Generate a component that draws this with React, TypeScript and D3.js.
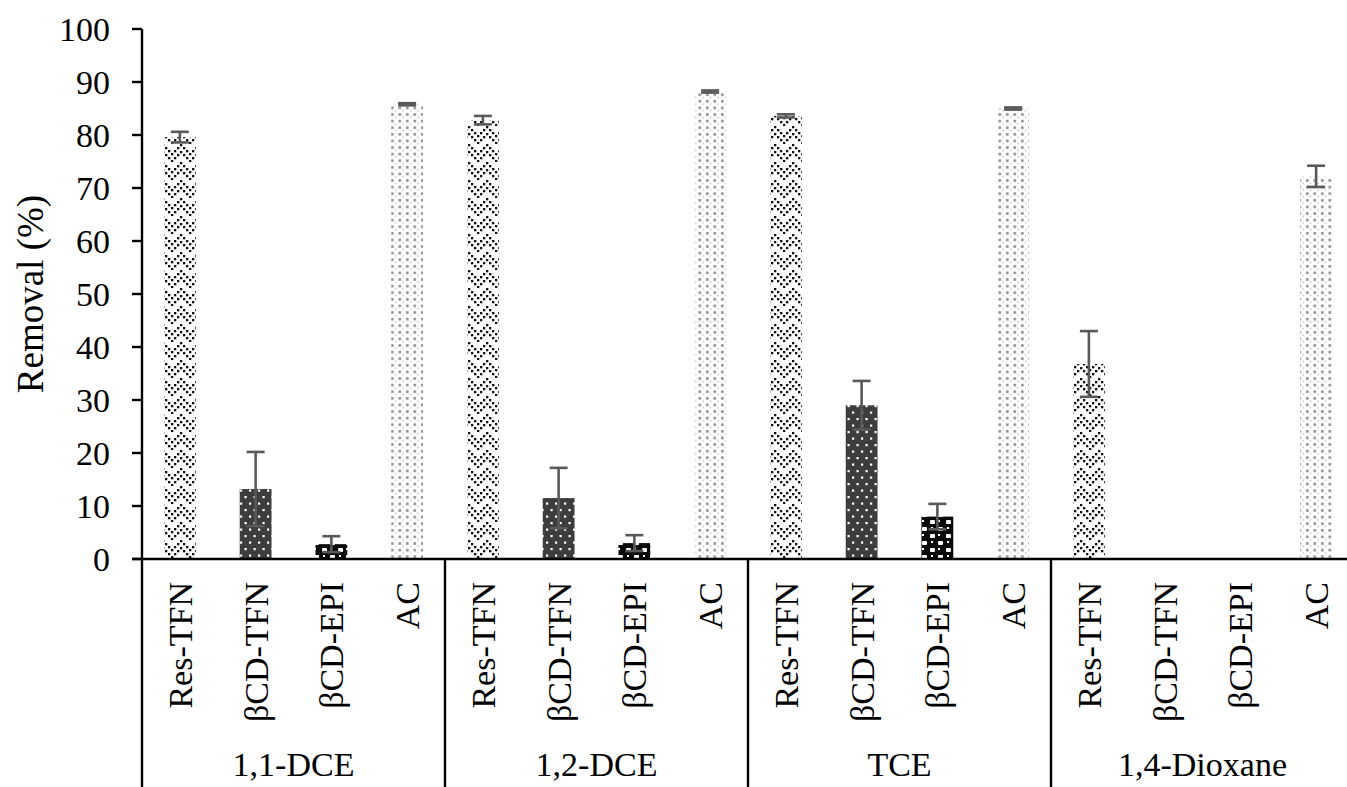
import React from "react";
import * as d3 from "d3";

const groups = ["1,1-DCE", "1,2-DCE", "TCE", "1,4-Dioxane"];
const materials = ["Res-TFN", "βCD-TFN", "βCD-EPI", "AC"];
// removal (%) per group, in material order
const resTFN = [79.6, 82.8, 83.6, 36.8];
const bcdTFN = [13.2, 11.5, 29.0, 0];
const bcdEPI = [2.8, 3.0, 8.0, 0];
const acVals = [85.8, 88.2, 85.0, 72.2];
const resTFNErr = [1.0, 0.8, 0.3, 6.2];
const bcdTFNErr = [7.0, 5.7, 4.6, 0];
const bcdEPIErr = [1.5, 1.5, 2.4, 0];
const acErr = [0.2, 0.2, 0.2, 2.0];
const yTicks = [0, 10, 20, 30, 40, 50, 60, 70, 80, 90, 100];

const values = [resTFN, bcdTFN, bcdEPI, acVals];
const errors = [resTFNErr, bcdTFNErr, bcdEPIErr, acErr];
const patternIds = ["pRes", "pBcdTfn", "pBcdEpi", "pAc"];

const W = 1347;
const H = 787;
const FONT = "Liberation Serif";
const FS = 34;

export default function App() {
  const y = d3.scaleLinear().domain([0, 100]).range([559, 29]);
  const xg = d3.scaleBand<string>().domain(groups).range([142, 1354]).padding(0);
  const xs = d3
    .scaleBand<string>()
    .domain(materials)
    .range([0, xg.bandwidth()])
    .paddingInner(0.58)
    .paddingOuter(0.29);
  const bw = xs.bandwidth();

  const resDots: [number, number][] = [
    [0, 0], [3, 3], [6, 6], [9, 9], [12, 6], [15, 3],
    [0, 7], [3, 10], [6, 13], [12, 13], [15, 10], [9, 16],
  ];

  return (
    <svg width={W} height={H} style={{ position: "absolute", left: 0, top: 0, background: "#fff" }}>
      <defs>
        <pattern id="pRes" patternUnits="userSpaceOnUse" width={18} height={18}>
          <rect width={18} height={18} fill="#fff" />
          {resDots.map(([px, py], i) => (
            <rect key={i} x={px} y={py} width={2.3} height={2.3} fill="#111" />
          ))}
        </pattern>
        <pattern id="pBcdTfn" patternUnits="userSpaceOnUse" width={9} height={13}>
          <rect width={9} height={13} fill="#3d3d3d" />
          <rect x={1.5} y={2} width={2.2} height={2.2} fill="#fff" />
          <rect x={6} y={8.5} width={2.2} height={2.2} fill="#fff" />
        </pattern>
        <pattern id="pBcdEpi" patternUnits="userSpaceOnUse" width={16} height={14}>
          <rect width={16} height={14} fill="#0a0a0a" />
          <rect x={2} y={2} width={5} height={4} rx={1} fill="#fff" />
          <rect x={10} y={9} width={5} height={4} rx={1} fill="#fff" />
          <rect x={10} y={2} width={2} height={2} fill="#fff" />
          <rect x={3} y={9} width={2} height={2} fill="#fff" />
        </pattern>
        <pattern id="pAc" patternUnits="userSpaceOnUse" width={7.5} height={6.6}>
          <rect width={7.5} height={6.6} fill="#fff" />
          <rect x={1} y={1} width={2.6} height={2.6} fill="#8f8f8f" />
          <rect x={4.8} y={4.3} width={1.6} height={1.6} fill="#c9c9c9" />
        </pattern>
      </defs>

      {/* bars */}
      {groups.map((g, gi) =>
        materials.map((m, mi) => {
          const v = values[mi][gi];
          if (v <= 0) return null;
          const x0 = (xg(g) as number) + (xs(m) as number);
          return (
            <rect
              key={`${g}-${m}`}
              x={x0}
              y={y(v)}
              width={bw}
              height={y(0) - y(v)}
              fill={`url(#${patternIds[mi]})`}
            />
          );
        })
      )}

      {/* error bars */}
      {groups.map((g, gi) =>
        materials.map((m, mi) => {
          const v = values[mi][gi];
          const e = errors[mi][gi];
          if (v <= 0) return null;
          const cx = (xg(g) as number) + (xs(m) as number) + bw / 2;
          const yt = y(v + e);
          const yb = y(Math.max(0, v - e));
          return (
            <g key={`e-${g}-${m}`} stroke="#595959" strokeWidth={2.6}>
              <line x1={cx} x2={cx} y1={yt} y2={yb} />
              <line x1={cx - 9} x2={cx + 9} y1={yt} y2={yt} />
              <line x1={cx - 9} x2={cx + 9} y1={yb} y2={yb} />
            </g>
          );
        })
      )}

      {/* y axis */}
      <line x1={142} x2={142} y1={y(100)} y2={H} stroke="#000" strokeWidth={2.4} />
      {yTicks.map((t) => (
        <g key={t}>
          <line x1={132} x2={142} y1={y(t)} y2={y(t)} stroke="#000" strokeWidth={2.4} />
          <text
            x={110}
            y={y(t)}
            dy="0.34em"
            textAnchor="end"
            fontFamily={FONT}
            fontSize={FS}
            fill="#000"
          >
            {t}
          </text>
        </g>
      ))}
      <text
        transform={`translate(43, ${(y(0) + y(100)) / 2}) rotate(-90)`}
        textAnchor="middle"
        fontFamily={FONT}
        fontSize={37}
        fill="#000"
      >
        Removal (%)
      </text>

      {/* x axis */}
      <line x1={132} x2={W} y1={y(0)} y2={y(0)} stroke="#000" strokeWidth={2.6} />
      {groups.map((g, gi) =>
        gi === 0 ? null : (
          <line
            key={`sep-${g}`}
            x1={xg(g) as number}
            x2={xg(g) as number}
            y1={y(0)}
            y2={H}
            stroke="#000"
            strokeWidth={2.4}
          />
        )
      )}
      {groups.map((g) =>
        materials.map((m) => {
          const cx = (xg(g) as number) + (xs(m) as number) + bw / 2;
          return (
            <text
              key={`l-${g}-${m}`}
              transform={`translate(${cx}, 582) rotate(-90)`}
              textAnchor="end"
              dy="0.35em"
              fontFamily={FONT}
              fontSize={FS}
              fill="#000"
            >
              {m}
            </text>
          );
        })
      )}
      {groups.map((g) => (
        <text
          key={`g-${g}`}
          x={(xg(g) as number) + xg.bandwidth() / 2}
          y={776}
          textAnchor="middle"
          fontFamily={FONT}
          fontSize={FS}
          fill="#000"
        >
          {g}
        </text>
      ))}
    </svg>
  );
}
